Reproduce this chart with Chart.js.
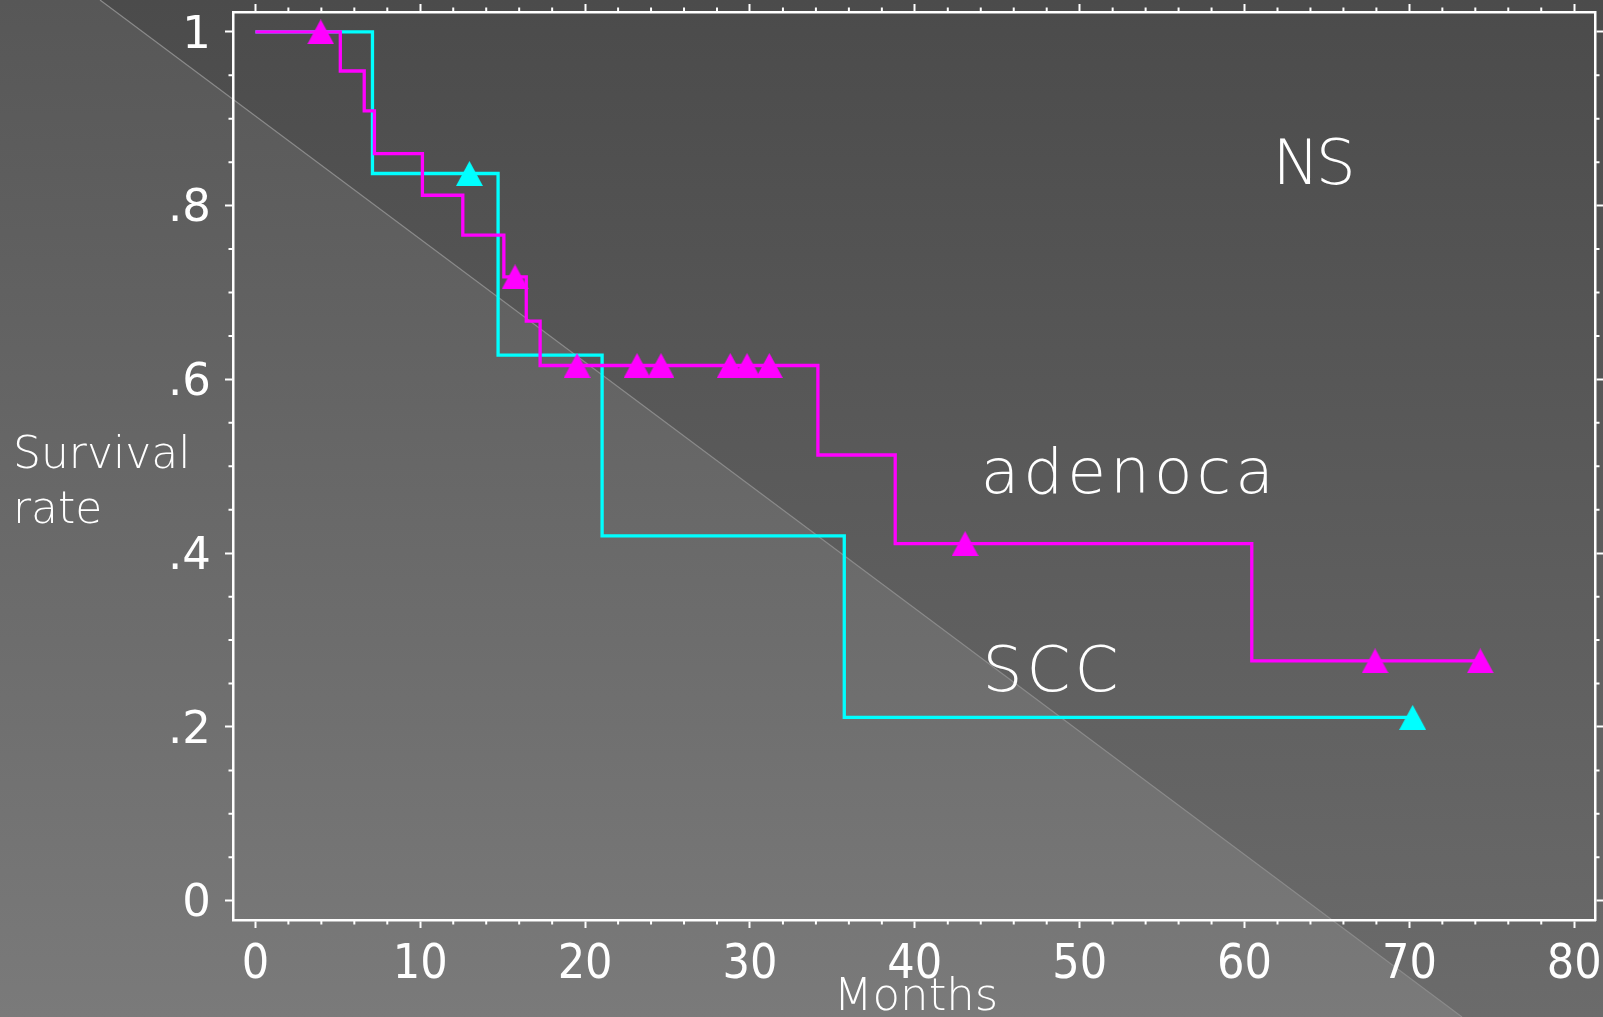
<!DOCTYPE html>
<html><head><meta charset="utf-8">
<script src="https://cdn.jsdelivr.net/npm/chart.js@4.4.1/dist/chart.umd.min.js"></script>
<style>html,body{margin:0;padding:0;background:#555;overflow:hidden}canvas{display:block}</style>
</head><body>
<canvas id="c" width="1603" height="1017"></canvas>
<script>
// ---- data ----
const adenoTimes = [0, 5.15, 6.60, 7.22, 10.13, 12.58, 15.07, 16.43, 17.27, 34.12, 38.81, 60.44, 74.3];
const adenoSurv  = [1.0, 0.955, 0.909, 0.860, 0.812, 0.766, 0.718, 0.667, 0.616, 0.513, 0.411, 0.276, 0.276];
const adenoCensorTimes = [3.96, 15.75, 19.51, 23.15, 24.60, 28.80, 29.82, 31.17, 43.05, 67.92, 74.30];
const adenoCensorSurv  = [1.0, 0.718, 0.616, 0.616, 0.616, 0.616, 0.616, 0.616, 0.411, 0.276, 0.276];

const sccTimes = [0, 7.10, 14.72, 21.03, 35.72, 70.2];
const sccSurv  = [1.0, 0.837, 0.628, 0.420, 0.211, 0.211];
const sccCensorTimes = [12.98, 70.2];
const sccCensorSurv  = [0.837, 0.211];

const xTickValues = [0, 10, 20, 30, 40, 50, 60, 70, 80];
const xTickLabels = ['0', '10', '20', '30', '40', '50', '60', '70', '80'];
const yTickValues = [0, 0.2, 0.4, 0.6, 0.8, 1];
const yTickLabels = ['0', '.2', '.4', '.6', '.8', '1'];
const xMinorStep = 2;
const yMinorStep = 0.05;

const noteTexts = ['NS', 'adenoca', 'SCC'];
const noteX = [61.7, 44.0, 44.1];
const noteY = [0.8247, 0.4697, 0.2417];

const xTitle = 'Months';
const yTitleLines = ['Survival', 'rate'];

// ---- styles ----
const noteSpacing = ['-4px', '4px', '4px'];
const pts = (xs, ys) => xs.map((x, i) => ({ x: x, y: ys[i] }));
function triangleCanvas(color) {
  const c = document.createElement('canvas');
  c.width = 27; c.height = 25;
  const g = c.getContext('2d');
  g.fillStyle = color;
  g.beginPath(); g.moveTo(0, 25); g.lineTo(13.5, 0); g.lineTo(27, 25); g.closePath(); g.fill();
  return c;
}
const MAG = '#ff00ff', CYA = '#00ffff';
const triMag = triangleCanvas(MAG), triCya = triangleCanvas(CYA);

const X_MIN = -1.36, X_MAX = 81.26, Y_MIN = -0.0222, Y_MAX = 1.0229;
const gridCommon = { display: true, drawOnChartArea: false, drawTicks: true, tickLength: 8, tickWidth: 2, tickColor: '#ffffff', color: '#ffffff' };
const borderCommon = { display: true, color: '#ffffff', width: 2.5 };
const noPad = s => { s.paddingTop = 0; s.paddingBottom = 0; s.paddingLeft = 0; s.paddingRight = 0; };

const bgPlugin = {
  id: 'bg',
  beforeDraw(chart) {
    const ctx = chart.ctx, W = chart.width, H = chart.height;
    ctx.save();
    let g = ctx.createLinearGradient(0, 0, 0, H);
    g.addColorStop(0, '#575757'); g.addColorStop(1, '#7a7a7a');
    ctx.fillStyle = g; ctx.fillRect(0, 0, W, H);
    g = ctx.createLinearGradient(0, 0, 0, H);
    g.addColorStop(0, '#4b4b4b'); g.addColorStop(1, '#6b6b6b');
    ctx.beginPath(); ctx.moveTo(100, 0); ctx.lineTo(W, 0); ctx.lineTo(W, H); ctx.lineTo(1462, H); ctx.closePath();
    ctx.fillStyle = g; ctx.fill();
    ctx.beginPath(); ctx.moveTo(100, 0); ctx.lineTo(1462, H);
    ctx.strokeStyle = '#8a8a8a'; ctx.lineWidth = 1.2; ctx.stroke();
    ctx.restore();
  }
};

const minorPlugin = {
  id: 'minor',
  afterDraw(chart) {
    const ctx = chart.ctx, a = chart.chartArea, sx = chart.scales.x, sy = chart.scales.y;
    ctx.save(); ctx.strokeStyle = '#ffffff'; ctx.lineWidth = 2;
    ctx.beginPath();
    for (let v = 0; v <= 80 + 1e-9; v += xMinorStep) {
      if (Math.abs(v % 10) < 1e-9) continue;
      const px = sx.getPixelForValue(v);
      ctx.moveTo(px, a.bottom); ctx.lineTo(px, a.bottom + 4.5);
      ctx.moveTo(px, a.top); ctx.lineTo(px, a.top - 4.5);
    }
    for (let k = 0; k <= 20; k++) {
      if (k % 4 === 0) continue;
      const py = sy.getPixelForValue(k * yMinorStep);
      ctx.moveTo(a.left, py); ctx.lineTo(a.left - 4.5, py);
      ctx.moveTo(a.right, py); ctx.lineTo(a.right + 4.5, py);
    }
    ctx.stroke(); ctx.restore();
  }
};

const textPlugin = {
  id: 'texts',
  afterDraw(chart) {
    const ctx = chart.ctx, sx = chart.scales.x, sy = chart.scales.y;
    ctx.save();
    ctx.fillStyle = '#ffffff';
    ctx.textBaseline = 'alphabetic';
    ctx.textAlign = 'left';
    ctx.font = "200 63px 'DejaVu Sans', sans-serif";
    noteTexts.forEach((t, i) => {
      ctx.letterSpacing = noteSpacing[i];
      ctx.fillText(t, sx.getPixelForValue(noteX[i]), sy.getPixelForValue(noteY[i]));
    });
    ctx.letterSpacing = '0px';
    ctx.font = "200 44px 'DejaVu Sans', sans-serif";
    ctx.fillText(yTitleLines[0], 13, 468);
    ctx.fillText(yTitleLines[1], 13, 523);
    ctx.font = "200 45px 'DejaVu Sans', sans-serif";
    ctx.textAlign = 'center';
    ctx.fillText(xTitle, 916, 1010);
    ctx.restore();
  }
};

new Chart(document.getElementById('c'), {
  data: {
    datasets: [
      { type: 'line', label: 'adenoca', data: pts(adenoTimes, adenoSurv), stepped: 'before', borderColor: MAG, borderWidth: 3.3, pointRadius: 0, fill: false, order: 3 },
      { type: 'line', label: 'SCC', data: pts(sccTimes, sccSurv), stepped: 'before', borderColor: CYA, borderWidth: 3.3, pointRadius: 0, fill: false, order: 4 },
      { type: 'scatter', label: 'adenoca censored', data: pts(adenoCensorTimes, adenoCensorSurv), pointStyle: triMag, pointRadius: 13, backgroundColor: MAG, borderColor: MAG, order: 1 },
      { type: 'scatter', label: 'SCC censored', data: pts(sccCensorTimes, sccCensorSurv), pointStyle: triCya, pointRadius: 13, backgroundColor: CYA, borderColor: CYA, order: 2 }
    ]
  },
  options: {
    responsive: false,
    animation: false,
    devicePixelRatio: 1,
    layout: { padding: 0, autoPadding: false },
    plugins: { legend: { display: false }, tooltip: { enabled: false } },
    scales: {
      x: {
        type: 'linear', position: 'bottom', min: X_MIN, max: X_MAX,
        afterBuildTicks: s => { s.ticks = xTickValues.map(v => ({ value: v })); },
        afterFit: s => { s.height = 97; noPad(s); },
        ticks: { color: '#ffffff', padding: 9, maxRotation: 0, autoSkip: false,
          font: { family: "'Liberation Sans Narrow', 'DejaVu Sans Condensed', sans-serif", size: 48 },
          callback: (v, i) => xTickLabels[i] },
        grid: gridCommon, border: borderCommon
      },
      x2: {
        type: 'linear', position: 'top', min: X_MIN, max: X_MAX,
        afterBuildTicks: s => { s.ticks = xTickValues.map(v => ({ value: v })); },
        afterFit: s => { s.height = 12; noPad(s); },
        ticks: { display: false },
        grid: gridCommon, border: borderCommon
      },
      y: {
        type: 'linear', position: 'left', min: Y_MIN, max: Y_MAX,
        afterBuildTicks: s => { s.ticks = yTickValues.map(v => ({ value: v })); },
        afterFit: s => { s.width = 233; noPad(s); },
        ticks: { color: '#ffffff', padding: 14, autoSkip: false, labelOffset: 4,
          font: { family: "'DejaVu Sans', sans-serif", size: 45 },
          callback: (v, i) => yTickLabels[i] },
        grid: gridCommon, border: borderCommon
      },
      y2: {
        type: 'linear', position: 'right', min: Y_MIN, max: Y_MAX,
        afterBuildTicks: s => { s.ticks = yTickValues.map(v => ({ value: v })); },
        afterFit: s => { s.width = 8; noPad(s); },
        ticks: { display: false },
        grid: gridCommon, border: borderCommon
      }
    }
  },
  plugins: [bgPlugin, minorPlugin, textPlugin]
});
</script>
</body></html>
